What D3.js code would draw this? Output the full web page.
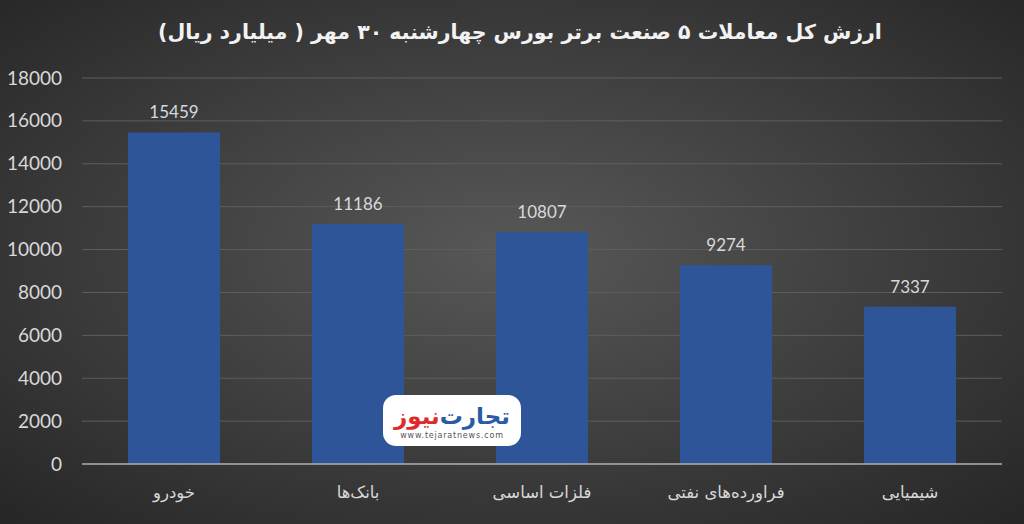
<!DOCTYPE html>
<html><head><meta charset="utf-8">
<script src="https://cdn.jsdelivr.net/npm/d3@7/dist/d3.min.js"></script>
<style>body{margin:0;background:#333;overflow:hidden}</style>
</head><body>
<svg id="c" width="1024" height="524"></svg>
<script>
const categories = ["خودرو","بانک‌ها","فلزات اساسی","فراورده‌های نفتی","شیمیایی"];
const values = [15459, 11186, 10807, 9274, 7337];
const yTicks = [0,2000,4000,6000,8000,10000,12000,14000,16000,18000];
const title = "ارزش کل معاملات ۵ صنعت برتر بورس چهارشنبه ۳۰ مهر ( میلیارد ریال)";

const svg = d3.select("#c");
const defs = svg.append("defs");
const g = defs.append("radialGradient").attr("id","bg").attr("cx","50%").attr("cy","48%").attr("r","72%");
g.append("stop").attr("offset","0%").attr("stop-color","#585858");
g.append("stop").attr("offset","100%").attr("stop-color","#262626");
svg.append("rect").attr("width",1024).attr("height",524).attr("fill","url(#bg)");

const x = d3.scaleBand().domain(categories).range([82,1002]).paddingInner(0.5).paddingOuter(0.25);
const y = d3.scaleLinear().domain([0,18000]).range([464,78]);

// gridlines
svg.append("g").selectAll("line").data(yTicks.filter(d=>d>0)).join("line")
  .attr("x1",82).attr("x2",1002).attr("y1",d=>y(d)).attr("y2",d=>y(d))
  .attr("stroke","#5e5e5e").attr("stroke-width",1);

// y axis labels
const yAxis = d3.axisLeft(y).tickValues(yTicks).tickSize(0).tickPadding(0).tickFormat(d3.format("d"));
const ya = svg.append("g").attr("transform","translate(62,0)").call(yAxis);
ya.select(".domain").remove();
ya.selectAll("text").attr("fill","#d9d9d9").style("font-family","Lato, 'Liberation Sans', sans-serif").style("font-size","19px");

// bars
svg.append("g").selectAll("rect").data(values).join("rect")
  .attr("x",(d,i)=>x(categories[i])).attr("width",x.bandwidth())
  .attr("y",d=>y(d)).attr("height",d=>y(0)-y(d)).attr("fill","#2E5597");

// value labels
svg.append("g").selectAll("text").data(values).join("text")
  .attr("x",(d,i)=>x(categories[i])+x.bandwidth()/2).attr("y",d=>y(d)-14)
  .attr("text-anchor","middle").attr("fill","#d9d9d9")
  .style("font-family","Lato, 'Liberation Sans', sans-serif").style("font-size","17px").text(d=>d);

// baseline
svg.append("line").attr("x1",82).attr("x2",1002).attr("y1",y(0)).attr("y2",y(0)).attr("stroke","#b0b0b0").attr("stroke-width",1.5);

// x axis labels
const xAxis = d3.axisBottom(x).tickSize(0).tickPadding(0);
const xa = svg.append("g").attr("transform","translate(0,486)").call(xAxis);
xa.select(".domain").remove();
xa.selectAll("text").attr("fill","#d9d9d9").attr("dy","0.71em").style("font-family","'DejaVu Sans', sans-serif").style("font-size","16.5px");

// title
svg.append("text").attr("x",520).attr("y",39).attr("text-anchor","middle").attr("fill","#f2f2f2")
  .attr("direction","rtl").style("font-family","'DejaVu Sans', sans-serif").style("font-size","20.5px").style("font-weight","bold").text(title);

// logo
const lg = svg.append("g").attr("transform","translate(383,395)");
lg.append("rect").attr("width",138).attr("height",51).attr("rx",13).attr("fill","#ffffff");
lg.append("text").attr("x",69).attr("y",29).attr("text-anchor","middle").attr("direction","rtl")
  .style("font-family","'DejaVu Sans', sans-serif").style("font-size","23px").style("font-weight","bold")
  .call(t=>{t.append("tspan").attr("fill","#2a5aa8").text("تجارت\u200C");t.append("tspan").attr("fill","#e02a2a").text("نیوز");});
lg.append("text").attr("x",69).attr("y",43).attr("text-anchor","middle").attr("fill","#555")
  .style("font-family","'DejaVu Sans', sans-serif").style("font-size","8px").style("letter-spacing","0.8px").text("www.tejaratnews.com");
</script>
</body></html>
